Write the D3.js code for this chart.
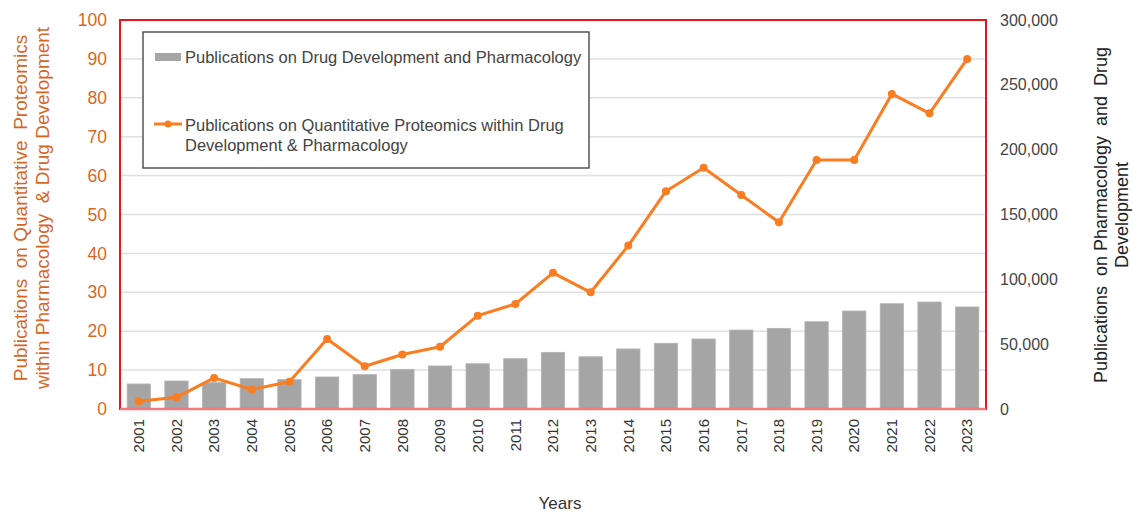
<!DOCTYPE html>
<html>
<head>
<meta charset="utf-8">
<script src="https://cdn.jsdelivr.net/npm/d3@7"></script>
<style>
  body { margin: 0; background: #fff; }
  svg { font-family: "Liberation Sans", Arial, sans-serif; }
  text { white-space: pre; }
</style>
</head>
<body>
<svg class="chart" width="1133" height="514"></svg>
<script>
const years = ['2001', '2002', '2003', '2004', '2005', '2006', '2007', '2008', '2009', '2010', '2011', '2012',
  '2013', '2014', '2015', '2016', '2017', '2018', '2019', '2020', '2021', '2022', '2023'];
const drugPubs = [19300, 21600, 20300, 23400, 22600, 24700, 26500, 30600, 33200, 34900, 38800, 43700,
  40300, 46300, 50700, 54000, 60900, 62200, 67300, 75600, 81200, 82500, 78700];
const proteomicsPubs = [2, 3, 8, 5, 7, 18, 11, 14, 16, 24, 27, 35, 30, 42, 56, 62, 55, 48, 64, 64, 81, 76, 90];
const leftTicks = [0, 10, 20, 30, 40, 50, 60, 70, 80, 90, 100];
const rightTicks = [0, 50000, 100000, 150000, 200000, 250000, 300000];

const plot = { left: 120, right: 986, top: 20, bottom: 409 };
const orange = '#d9661f';
const lineColor = '#fa7d21';

const svg = d3.select('.chart');

const x = d3.scaleBand().domain(years).range([plot.left, plot.right]).paddingInner(0.38).paddingOuter(0.19);
const yLeft = d3.scaleLinear().domain([0, 100]).range([plot.bottom, plot.top]);
const yRight = d3.scaleLinear().domain([0, 300000]).range([plot.bottom, plot.top]);

// gridlines
svg.append('g')
  .selectAll('line')
  .data(leftTicks.slice(1, -1))
  .enter()
  .append('line')
  .attr('x1', plot.left)
  .attr('x2', plot.right)
  .attr('y1', d => yLeft(d))
  .attr('y2', d => yLeft(d))
  .attr('stroke', '#e0e0e0')
  .attr('stroke-width', 1.5);

// bars
svg.append('g')
  .selectAll('rect')
  .data(years)
  .enter()
  .append('rect')
  .attr('x', d => x(d))
  .attr('width', x.bandwidth())
  .attr('y', (d, i) => yRight(drugPubs[i]))
  .attr('height', (d, i) => plot.bottom - yRight(drugPubs[i]))
  .attr('fill', '#a5a5a5')
  .attr('stroke', '#b4b4b4')
  .attr('stroke-width', 0.8);

// frame
svg.append('rect')
  .attr('x', plot.left)
  .attr('y', plot.top)
  .attr('width', plot.right - plot.left)
  .attr('height', plot.bottom - plot.top)
  .attr('fill', 'none')
  .attr('stroke', '#e8161b')
  .attr('stroke-width', 2);
svg.append('line')
  .attr('x1', plot.left)
  .attr('x2', plot.right)
  .attr('y1', plot.bottom)
  .attr('y2', plot.bottom)
  .attr('stroke', '#f07a7d')
  .attr('stroke-width', 2.5);

// line series
const line = d3.line()
  .x((d, i) => x(years[i]) + x.bandwidth() / 2)
  .y(d => yLeft(d));
svg.append('path')
  .datum(proteomicsPubs)
  .attr('fill', 'none')
  .attr('stroke', lineColor)
  .attr('stroke-width', 3)
  .attr('stroke-linejoin', 'round')
  .attr('d', line);
svg.append('g')
  .selectAll('circle')
  .data(proteomicsPubs)
  .enter()
  .append('circle')
  .attr('cx', (d, i) => x(years[i]) + x.bandwidth() / 2)
  .attr('cy', d => yLeft(d))
  .attr('r', 4)
  .attr('fill', lineColor);

// left axis
const leftAxis = svg.append('g')
  .attr('transform', `translate(${plot.left}, 0)`)
  .call(d3.axisLeft(yLeft).tickValues(leftTicks).tickSize(0).tickPadding(13));
leftAxis.select('.domain').remove();
leftAxis.selectAll('text').attr('fill', orange).attr('font-size', 17.5).attr('font-family', '"Liberation Sans", Arial, sans-serif');

// right axis
const rightAxis = svg.append('g')
  .attr('transform', `translate(${plot.right}, 0)`)
  .call(d3.axisRight(yRight).tickValues(rightTicks).tickSize(0).tickPadding(14).tickFormat(d3.format(',')));
rightAxis.select('.domain').remove();
rightAxis.selectAll('text').attr('fill', '#444').attr('font-size', 16).attr('font-family', '"Liberation Sans", Arial, sans-serif');

// x axis labels
const xAxis = svg.append('g')
  .attr('transform', `translate(0, ${plot.bottom})`)
  .call(d3.axisBottom(x).tickSize(0).tickPadding(0));
xAxis.select('.domain').remove();
xAxis.selectAll('text')
  .attr('fill', '#333')
  .attr('font-size', 15)
  .attr('font-family', '"Liberation Sans", Arial, sans-serif')
  .attr('transform', 'rotate(-90)')
  .attr('text-anchor', 'end')
  .attr('x', -10)
  .attr('y', 0)
  .attr('dy', '0.35em');

// axis titles
svg.append('g')
  .attr('transform', 'translate(20, 208) rotate(-90)')
  .selectAll('text')
  .data(['Publications  on Quantitative  Proteomics', 'within Pharmacology  & Drug Development'])
  .enter()
  .append('text')
  .attr('y', (d, i) => i * 22)
  .attr('dy', '0.35em')
  .attr('text-anchor', 'middle')
  .attr('fill', orange)
  .attr('font-size', 19)
  .text(d => d);

svg.append('g')
  .attr('transform', 'translate(1101, 215) rotate(-90)')
  .selectAll('text')
  .data(['Publications  on Pharmacology  and  Drug', 'Development'])
  .enter()
  .append('text')
  .attr('y', (d, i) => i * 21)
  .attr('dy', '0.35em')
  .attr('text-anchor', 'middle')
  .attr('fill', '#222')
  .attr('font-size', 18)
  .text(d => d);

svg.append('text')
  .attr('x', 560)
  .attr('y', 503)
  .attr('dy', '0.35em')
  .attr('text-anchor', 'middle')
  .attr('fill', '#333')
  .attr('font-size', 17)
  .text('Years');

// legend
const legend = svg.append('g');
legend.append('rect')
  .attr('x', 143)
  .attr('y', 32)
  .attr('width', 446)
  .attr('height', 136)
  .attr('fill', '#fff')
  .attr('stroke', '#555')
  .attr('stroke-width', 1.5);
legend.append('rect')
  .attr('x', 155)
  .attr('y', 53)
  .attr('width', 26)
  .attr('height', 8)
  .attr('fill', '#a5a5a5');
legend.append('text')
  .attr('x', 185)
  .attr('y', 57)
  .attr('dy', '0.35em')
  .attr('fill', '#444')
  .attr('font-size', 16.5)
  .text('Publications on Drug Development and Pharmacology');
legend.append('line')
  .attr('x1', 154)
  .attr('x2', 182)
  .attr('y1', 124)
  .attr('y2', 124)
  .attr('stroke', lineColor)
  .attr('stroke-width', 3);
legend.append('circle')
  .attr('cx', 168)
  .attr('cy', 124)
  .attr('r', 3.5)
  .attr('fill', lineColor);
legend.selectAll('.legend-line-text')
  .data(['Publications on Quantitative Proteomics within Drug', 'Development & Pharmacology'])
  .enter()
  .append('text')
  .attr('class', 'legend-line-text')
  .attr('x', 185)
  .attr('y', (d, i) => 125 + i * 20)
  .attr('dy', '0.35em')
  .attr('fill', '#444')
  .attr('font-size', 16.5)
  .text(d => d);
</script>
</body>
</html>
